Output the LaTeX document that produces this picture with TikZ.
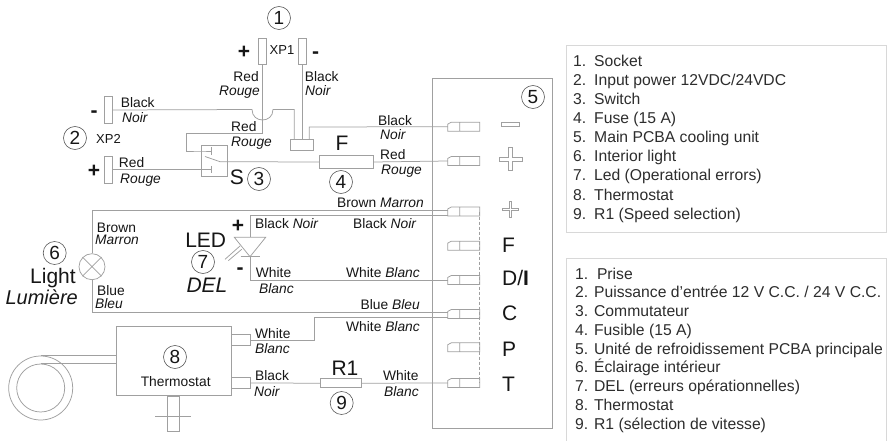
\documentclass[tikz,border=0pt]{standalone}
\usepackage{fontspec}
\setmainfont{Liberation Sans}
\definecolor{wire}{HTML}{A0A0A0}
\definecolor{ink}{HTML}{161616}
\definecolor{frameg}{HTML}{D8D8D8}
\tikzset{
  wireline/.style={draw=wire,line width=0.75pt},
  part/.style={wireline,rectangle,inner sep=0pt,fill=white},
  blank/.style={rectangle,inner sep=0pt,minimum width=31.5pt,minimum height=8.6pt},
  num/.style={draw=ink!70,line width=0.6pt,circle,inner sep=0pt,minimum size=23pt,text=ink,font=\fontsize{19}{19}\selectfont},
  lab/.style={inner sep=0pt,text=ink,text height=9.9pt,text depth=0pt,font=\fontsize{13.8}{15}\selectfont},
  big/.style={inner sep=0pt,text=ink,text height=15pt,text depth=0pt,font=\fontsize{21}{22}\selectfont},
  mid/.style={inner sep=0pt,text=ink,text height=9.3pt,text depth=0pt,font=\fontsize{13}{14}\selectfont},
  legendtext/.style={inner sep=0pt,text=ink!90,align=left,anchor=north west},
}
\newcommand{\termbox}[2]{%
  \node[blank] (#1) at (463.75,#2) {};
  \draw[wireline] (#1.south west) -- ([yshift=2.6pt]#1.west) -- ([xshift=3.5pt]#1.north west) -- (#1.north east) -- (#1.south east) -- cycle
    ([xshift=12pt]#1.north west) -- ([xshift=12pt]#1.south west);}
\newcommand{\leglab}[1]{\makebox[21pt][l]{#1}}
\begin{document}
\begin{tikzpicture}[x=1pt,y=-1pt]
\useasboundingbox (0,0) rectangle (889,441);
\fill[white] (0,0) rectangle (889,441);
% main unit
\node[wireline,rectangle,inner sep=0pt,minimum width=120pt,minimum height=350pt] (unit) at (492.7,253) {};
\termbox{t1}{126.7}
\termbox{t2}{161}
\termbox{t3}{211.5}
\termbox{t4}{245.7}
\termbox{t5}{280}
\termbox{t6}{314}
\termbox{t7}{347.3}
\termbox{t8}{383}
\draw[wireline,densely dashed] (t3.east) -- (t8.east);
% unit symbols
\node[part,minimum width=18pt,minimum height=4pt] (sminus) at (510,124.7) {};
\draw[wireline] (508.7,147.5) -- (512.7,147.5) -- (512.7,157) -- (522.2,157) -- (522.2,161) -- (512.7,161) -- (512.7,170.5) -- (508.7,170.5) -- (508.7,161) -- (499.2,161) -- (499.2,157) -- (508.7,157) -- cycle;
\draw[wireline] (509.5,201.5) -- (511.5,201.5) -- (511.5,208.5) -- (518.5,208.5) -- (518.5,210.5) -- (511.5,210.5) -- (511.5,217.5) -- (509.5,217.5) -- (509.5,210.5) -- (502.5,210.5) -- (502.5,208.5) -- (509.5,208.5) -- cycle;
\node[big,anchor=west] (lf) at (502,245) {F};
\node[big,anchor=west] (ld) at (502,277.5) {D/\textbf{I}};
\node[big,anchor=west] (lc) at (502,312.5) {C};
\node[big,anchor=west] (lp) at (502,348.5) {P};
\node[big,anchor=west] (lt) at (502,383.5) {T};
% XP1 XP2
\node[part,minimum width=7.5pt,minimum height=26pt] (xpa) at (262.5,51) {};
\node[part,minimum width=7.5pt,minimum height=26pt] (xpb) at (302.5,51) {};
\node[part,minimum width=8pt,minimum height=26.6pt] (xpc) at (108.3,110) {};
\node[part,minimum width=8pt,minimum height=27pt] (xpd) at (108.3,169.7) {};
% block, switch, fuse
\node[part,minimum width=22.6pt,minimum height=11pt] (block) at (302,144.5) {};
\node[part,minimum width=26pt,minimum height=31pt,fill=none] (switch) at (214,160.5) {};
\node[part,minimum width=53.7pt,minimum height=12.6pt] (fuse) at (346.2,162) {};
\node[part,minimum width=40.6pt,minimum height=9pt] (res) at (341,383.2) {};
% lamp
\node[wireline,circle,inner sep=0pt,minimum size=26pt,fill=white] (lamp) at (92,266.7) {};
\draw[wireline] (lamp.north west) -- (lamp.south east) (lamp.north east) -- (lamp.south west);
% thermostat
\node[part,minimum width=115pt,minimum height=69pt] (thermo) at (173.5,361.2) {};
\node[part,minimum width=19pt,minimum height=10.3pt] (pa) at (240.5,340) {};
\node[part,minimum width=19pt,minimum height=10.6pt] (pb) at (240.5,383) {};
\node[wireline,circle,inner sep=0pt,minimum size=64pt] (coilo) at (40.7,388) {};
\node[wireline,circle,inner sep=0pt,minimum size=48pt] (coili) at (40.7,388) {};
\draw[wireline] (coilo.north) -- (coilo.north -| thermo.west);
\draw[wireline] (coili.north) -- (coili.north -| thermo.west);
\node[part,minimum width=12.6pt,minimum height=35.3pt,anchor=north] (stem) at (thermo.south) {};
\coordinate (crossl) at (155,416);
\coordinate (crossr) at (191,416);
\draw[wireline] (crossl) -- (crossr);
% wires
\draw[wireline] (xpa.south) -- (262.5,133) -- (186,133) -- (186,151) -- (switch.west |- 0,151) -- (211.7,151);
\draw[wireline] (xpb.south) -- (xpb.south |- block.north);
\draw[wireline] (xpc.east) -- (252,109.5) .. controls (252,123.5) and (273,123.5) .. (273,109.5) -- (294.3,109.5) -- (294.3,139);
\draw[wireline] (309.3,139) -- (309.3,127) -- (t1.west);
\draw[wireline] (xpd.east) -- (211.7,169.7);
% switch details
\draw[wireline] (211.7,147.5) -- (211.7,155);
\draw[wireline] (211.7,166) -- (211.7,173.5);
\draw[wireline] (205,156.5) -- (220,161.7);
\draw[wireline] (220,161.7) -- (fuse.west);
\draw[wireline] (fuse.east) -- (t2.west);
\draw[wireline] ([yshift=0.8pt]t3.west) -- (92,210.7) -- (lamp.north);
\draw[wireline] (lamp.south) -- (92,312.3) -- ([yshift=1.7pt]t6.west);
\draw[wireline] ([yshift=-3.8pt]t3.west) -- (250,215.3) -- (250,237.3);
\coordinate (dl) at (234.3,237.3);
\coordinate (dr) at (265.7,237.3);
\coordinate (da) at (250,256.7);
\draw[wireline] (dl) -- (dr) -- (da) -- cycle;
\draw[wireline] (240.7,256.7) -- (260,256.7);
\draw[wireline] (da) -- (250,280) -- (t5.west);
\draw[wireline] (225,259.3) -- (240,246);
\draw[wireline] (228.3,260.7) -- (241.7,249.3);
\draw[wireline] (pa.east) -- (314.3,340) -- (314.3,317.3) -- ([yshift=-3.3pt]t6.west);
\draw[wireline] (pb.east) -- (res.west);
\draw[wireline] (res.east) -- (t8.west);
% numbers
\node[num] (n1) at (279,18) {1};
\node[num] (n2) at (75,138) {2};
\node[num] (n3) at (259,179) {3};
\node[num] (n4) at (341,182) {4};
\node[num] (n5) at (533,97) {5};
\node[num] (n6) at (54.7,253) {6};
\node[num] (n7) at (203,262) {7};
\node[num] (n8) at (175,357) {8};
\node[num] (n9) at (341.7,403) {9};
% top labels
\node[mid] (xp1) at (282,50) {XP1};
\node[big] (pl1) at (244,51) {\textbf{+}};
\node[big] (mi1) at (315.7,51) {\textbf{-}};
\node[lab,anchor=east] (a1) at (259,77) {Red};
\node[lab,anchor=east] (a2) at (260,90.7) {\textit{Rouge}};
\node[lab,anchor=west] (a3) at (304.7,77) {Black};
\node[lab,anchor=west] (a4) at (305,90.7) {\textit{Noir}};
\node[lab,anchor=west] (a5) at (120.7,102.7) {Black};
\node[lab,anchor=west] (a6) at (122,117.3) {\textit{Noir}};
\node[mid,anchor=west] (xp2) at (96,139) {XP2};
\node[big] (mi2) at (94,110) {\textbf{-}};
\node[big] (pl2) at (94,170) {\textbf{+}};
\node[lab,anchor=west] (a7) at (231,127) {Red};
\node[lab,anchor=west] (a8) at (231,141.7) {\textit{Rouge}};
\node[lab,anchor=west] (a9) at (118.7,163) {Red};
\node[lab,anchor=west] (a10) at (120,179) {\textit{Rouge}};
\node[big] (ls) at (237,177) {S};
\node[lab,anchor=west] (b1) at (378,120.7) {Black};
\node[lab,anchor=west] (b2) at (380,135) {\textit{Noir}};
\node[big] (lff) at (342,142.7) {F};
\node[lab,anchor=west] (b3) at (380,155) {Red};
\node[lab,anchor=west] (b4) at (381,170) {\textit{Rouge}};
\node[lab,anchor=east] (b5) at (424,203) {Brown \textit{Marron}};
\node[lab,anchor=east] (b6) at (416.7,224) {Black \textit{Noir}};
\node[lab,anchor=west] (b7) at (255,223.3) {Black \textit{Noir}};
\node[lab,anchor=west] (b8) at (255.7,273) {White};
\node[lab,anchor=west] (b9) at (259,288.3) {\textit{Blanc}};
\node[lab,anchor=east] (b10) at (420,272.7) {White \textit{Blanc}};
\node[lab,anchor=east] (b11) at (420,305) {Blue \textit{Bleu}};
\node[lab,anchor=east] (b12) at (420,326.7) {White \textit{Blanc}};
\node[lab,anchor=west] (b13) at (255,334) {White};
\node[lab,anchor=west] (b14) at (255,349) {\textit{Blanc}};
\node[lab,anchor=west] (b15) at (255,375.7) {Black};
\node[lab,anchor=west] (b16) at (254,391.7) {\textit{Noir}};
\node[big] (lr) at (345,368) {R1};
\node[lab,anchor=west] (b17) at (383,376) {White};
\node[lab,anchor=west] (b18) at (384,391.7) {\textit{Blanc}};
\node[lab,anchor=west] (c1) at (96.7,227.3) {Brown};
\node[lab,anchor=west] (c2) at (95,240) {\textit{Marron}};
\node[lab,anchor=west] (c3) at (97,290.7) {Blue};
\node[lab,anchor=west] (c4) at (95,303.3) {\textit{Bleu}};
\node[big] (pl3) at (238,225) {\textbf{+}};
\node[big] (mi3) at (240,266.7) {\textbf{-}};
\node[big] (lled) at (205.7,240) {LED};
\node[big] (ldel) at (207,285) {\textit{DEL}};
\node[big] (llight) at (53,276) {Light};
\node[big,font=\fontsize{20}{22}\selectfont] (llum) at (41.7,296.7) {\textit{Lumière}};
\node[lab] (lth) at (175.7,381.7) {Thermostat};
% legends
\node[rectangle,draw=frameg,line width=1pt,inner sep=0pt,minimum width=320pt,minimum height=186.7pt] (boxA) at (726.7,139.3) {};
\node[legendtext,font=\fontsize{15.7}{19.15}\selectfont] (legA) at (573,54.5) {%
\leglab{1.}Socket\\ \leglab{2.}Input power 12VDC/24VDC\\ \leglab{3.}Switch\\ \leglab{4.}Fuse (15 A)\\ \leglab{5.}Main PCBA cooling unit\\ \leglab{6.}Interior light\\ \leglab{7.}Led (Operational errors)\\ \leglab{8.}Thermostat\\ \leglab{9.}R1 (Speed selection)};
\coordinate (fa) at (566.7,441);
\coordinate (fb) at (566.7,258.3);
\coordinate (fc) at (886.7,258.3);
\coordinate (fd) at (886.7,441);
\draw[frameg,line width=1pt] (fa) -- (fb) -- (fc) -- (fd);
\node[legendtext,font=\fontsize{15.7}{18.75}\selectfont] (legB) at (575,267.5) {%
1.\ \ Prise\\ 2. Puissance d’entrée 12 V C.C. / 24 V C.C.\\ 3. Commutateur\\ 4. Fusible (15 A)\\ 5. Unité de refroidissement PCBA principale\\ 6. Éclairage intérieur\\ 7. DEL (erreurs opérationnelles)\\ 8. Thermostat\\ 9. R1 (sélection de vitesse)};
\end{tikzpicture}
\end{document}
